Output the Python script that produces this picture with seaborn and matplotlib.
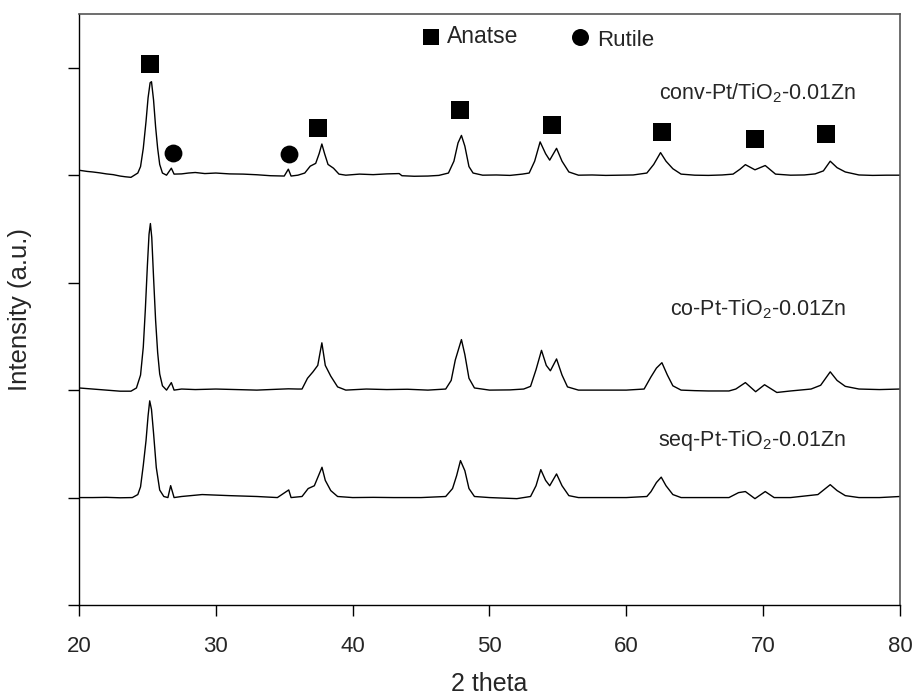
import numpy as np
import pandas as pd
import matplotlib
matplotlib.use("Agg")
import matplotlib.pyplot as plt
import seaborn as sns

# 2-theta positions (deg) and stacked intensities (a.u.) for each sample
conv_x = [20.0, 20.6, 21.0, 21.5, 22.0, 22.5, 23.0, 23.4, 23.8, 24.3, 24.5, 24.7, 24.9, 25.05, 25.2, 25.3,
          25.45, 25.6, 25.75, 25.9, 26.1, 26.4, 26.75, 26.95, 27.5, 28.0, 28.5, 29.2, 30.0, 31.0, 32.0, 33.0,
          34.0, 35.0, 35.3, 35.5, 36.0, 36.5, 36.9, 37.3, 37.55, 37.75, 37.95, 38.2, 38.6, 39.0, 39.5, 40.5,
          41.5, 42.5, 43.4, 43.6, 44.5, 45.5, 46.3, 47.0, 47.4, 47.7, 47.95, 48.2, 48.5, 48.8, 49.5, 50.5,
          51.5, 52.4, 52.9, 53.3, 53.7, 54.1, 54.4, 54.9, 55.3, 55.8, 56.5, 57.5, 58.5, 59.5, 60.5, 61.5,
          62.0, 62.5, 62.9, 63.4, 64.0, 65.0, 66.0, 67.0, 67.8, 68.3, 68.7, 69.4, 70.15, 70.9, 72.0, 73.0,
          73.8, 74.4, 74.9, 75.4, 76.0, 77.0, 78.0, 79.0, 80.0]
conv_y = [4.046, 4.035, 4.030, 4.022, 4.012, 4.005, 3.992, 3.985, 3.980, 4.020, 4.080, 4.250, 4.500, 4.720, 4.860, 4.870,
          4.700, 4.450, 4.250, 4.100, 4.020, 4.000, 4.065, 4.010, 4.012, 4.020, 4.025, 4.015, 4.020, 4.012, 4.010, 4.004,
          3.995, 3.992, 4.056, 3.992, 4.000, 4.020, 4.084, 4.110, 4.200, 4.290, 4.200, 4.100, 4.065, 4.010, 4.000, 4.010,
          4.005, 4.012, 4.015, 3.995, 3.990, 3.992, 3.998, 4.020, 4.130, 4.300, 4.370, 4.270, 4.080, 4.020, 4.000, 4.002,
          3.998, 4.010, 4.020, 4.130, 4.310, 4.200, 4.140, 4.250, 4.130, 4.030, 4.000, 4.002, 3.998, 4.000, 4.002, 4.020,
          4.100, 4.210, 4.130, 4.060, 4.010, 4.000, 3.998, 4.002, 4.010, 4.055, 4.098, 4.050, 4.090, 4.010, 4.000, 4.002,
          4.012, 4.040, 4.130, 4.070, 4.030, 4.002, 3.998, 4.000, 4.000]

co_x = [20.0, 21.0, 22.0, 23.0, 23.8, 24.2, 24.5, 24.7, 24.85, 25.0, 25.12, 25.22, 25.32, 25.45, 25.6, 25.75,
        25.9, 26.1, 26.4, 26.75, 26.95, 27.5, 28.5, 30.0, 31.5, 33.0, 34.5, 35.3, 36.0, 36.3, 36.7, 37.1,
        37.45, 37.75, 38.0, 38.4, 38.9, 39.5, 41.0, 42.5, 44.0, 45.5, 46.8, 47.2, 47.5, 47.95, 48.2, 48.5,
        48.9, 50.0, 51.5, 52.5, 53.0, 53.4, 53.8, 54.15, 54.45, 54.9, 55.3, 55.7, 56.5, 58.0, 60.0, 61.3,
        61.8, 62.2, 62.6, 63.0, 63.4, 64.0, 65.0, 66.0, 67.5, 68.0, 68.7, 69.45, 70.1, 71.0, 72.0, 73.5,
        74.2, 74.9, 75.4, 76.0, 77.0, 78.5, 80.0]
co_y = [2.020, 2.010, 2.000, 1.990, 1.990, 2.020, 2.140, 2.400, 2.750, 3.160, 3.450, 3.550, 3.420, 3.050, 2.650, 2.350,
        2.150, 2.040, 2.000, 2.070, 2.000, 2.010, 2.005, 2.010, 2.005, 2.000, 2.008, 2.012, 2.010, 2.010, 2.110, 2.170,
        2.230, 2.440, 2.230, 2.130, 2.030, 2.000, 2.010, 2.005, 2.008, 2.000, 2.010, 2.090, 2.280, 2.470, 2.330, 2.110,
        2.020, 2.000, 2.002, 2.010, 2.035, 2.190, 2.370, 2.230, 2.180, 2.290, 2.140, 2.030, 2.000, 2.000, 2.000, 2.010,
        2.123, 2.205, 2.255, 2.140, 2.040, 2.000, 1.995, 1.992, 1.992, 2.010, 2.070, 1.985, 2.050, 1.978, 1.992, 2.010,
        2.045, 2.170, 2.090, 2.035, 2.010, 2.005, 2.010]

seq_x = [20.0, 21.0, 22.0, 23.0, 23.9, 24.3, 24.5, 24.7, 24.9, 25.05, 25.17, 25.3, 25.45, 25.65, 25.9, 26.2,
         26.5, 26.7, 26.95, 27.5, 29.0, 31.0, 33.0, 34.5, 35.33, 35.5, 36.3, 36.75, 37.2, 37.76, 38.0, 38.4,
         38.9, 40.0, 41.5, 43.0, 45.0, 46.8, 47.3, 47.6, 47.88, 48.2, 48.5, 48.9, 50.0, 52.0, 53.0, 53.4,
         53.75, 54.1, 54.4, 54.9, 55.3, 55.8, 56.5, 58.0, 60.0, 61.5, 61.8, 62.2, 62.55, 62.9, 63.4, 64.0,
         66.0, 67.5, 68.2, 68.7, 69.4, 70.15, 70.8, 72.0, 74.0, 74.9, 75.4, 76.0, 77.0, 78.5, 80.0]
seq_y = [1.000, 1.000, 1.002, 0.998, 1.000, 1.028, 1.100, 1.300, 1.530, 1.760, 1.900, 1.820, 1.600, 1.280, 1.070, 1.010,
         1.000, 1.111, 1.000, 1.010, 1.028, 1.018, 1.010, 1.000, 1.071, 1.000, 1.010, 1.084, 1.110, 1.282, 1.160, 1.065,
         1.010, 1.000, 1.002, 1.000, 1.000, 1.010, 1.084, 1.205, 1.344, 1.250, 1.084, 1.010, 1.000, 0.990, 1.010, 1.110,
         1.260, 1.160, 1.110, 1.220, 1.110, 1.018, 1.000, 1.000, 1.000, 1.010, 1.055, 1.140, 1.190, 1.110, 1.028, 1.000,
         1.000, 1.000, 1.046, 1.056, 0.990, 1.056, 1.000, 1.000, 1.028, 1.120, 1.065, 1.018, 1.000, 1.000, 1.010]

sample_labels = ["conv-Pt/TiO$_2$-0.01Zn", "co-Pt-TiO$_2$-0.01Zn", "seq-Pt-TiO$_2$-0.01Zn"]
label_x = [69.6, 69.6, 69.2]
label_y = [4.76, 2.75, 1.53]

# Phase reflections marked on the top pattern
anatase_x = [25.2, 37.5, 47.85, 54.6, 62.6, 69.4, 74.6]
anatase_y = [5.03, 4.44, 4.61, 4.47, 4.40, 4.34, 4.38]
rutile_x = [26.9, 35.35]
rutile_y = [4.21, 4.20]
phase_names = ["Anatse", "Rutile"]

x_ticks = [20, 30, 40, 50, 60, 70, 80]
y_ticks = [0, 1, 2, 3, 4, 5]

sns.set_style("ticks")
plt.rcParams["font.family"] = ["Liberation Sans", "DejaVu Sans"]
plt.rcParams["mathtext.fontset"] = "custom"
plt.rcParams["mathtext.rm"] = "Liberation Sans"
plt.rcParams["mathtext.it"] = "Liberation Sans"
plt.rcParams["mathtext.default"] = "regular"

fig = plt.figure(figsize=(9.14, 6.96), dpi=100)
ax = fig.add_axes([0.0864, 0.1307, 0.8983, 0.8492])

frames = []
for name, xs, ys in zip(sample_labels, [conv_x, co_x, seq_x], [conv_y, co_y, seq_y]):
    frames.append(pd.DataFrame({"two_theta": xs, "intensity": ys, "sample": name}))
patterns = pd.concat(frames, ignore_index=True)

sns.lineplot(data=patterns, x="two_theta", y="intensity", units="sample", estimator=None,
             color="black", linewidth=1.0, sort=True, ax=ax, legend=False)

sns.scatterplot(x=anatase_x, y=anatase_y, marker="s", s=150, color="black",
                edgecolor="black", linewidth=0, ax=ax, legend=False)
sns.scatterplot(x=rutile_x, y=rutile_y, marker="o", s=165, color="black",
                edgecolor="black", linewidth=0, ax=ax, legend=False)

# phase key
ax.scatter([45.75], [5.29], marker="s", s=140, color="black", linewidth=0)
ax.text(46.9, 5.29, phase_names[0], fontsize=16.5, va="center", ha="left")
ax.scatter([56.6], [5.29], marker="o", s=150, color="black", linewidth=0)
ax.text(57.85, 5.25, phase_names[1], fontsize=16, va="center", ha="left")

for lab, lx, ly in zip(sample_labels, label_x, label_y):
    ax.text(lx, ly, lab, fontsize=15.5, ha="center", va="center")

ax.set_xlim(20, 80)
ax.set_ylim(0, 5.5)
ax.set_xticks(x_ticks)
ax.set_xticklabels([str(t) for t in x_ticks], fontsize=16)
ax.set_yticks(y_ticks)
ax.set_yticklabels([])
ax.tick_params(axis="both", direction="out", length=8, width=1, color="black", pad=14)
ax.set_xlabel("2 theta", fontsize=18, labelpad=11)
ax.set_ylabel("Intensity (a.u.)", fontsize=18.5, labelpad=12)

for side in ["left", "bottom"]:
    ax.spines[side].set_color("black")
    ax.spines[side].set_linewidth(1.0)
for side in ["top", "right"]:
    ax.spines[side].set_visible(True)
    ax.spines[side].set_color("#555555")
    ax.spines[side].set_linewidth(1.2)

fig.savefig("out.png", dpi=100)
